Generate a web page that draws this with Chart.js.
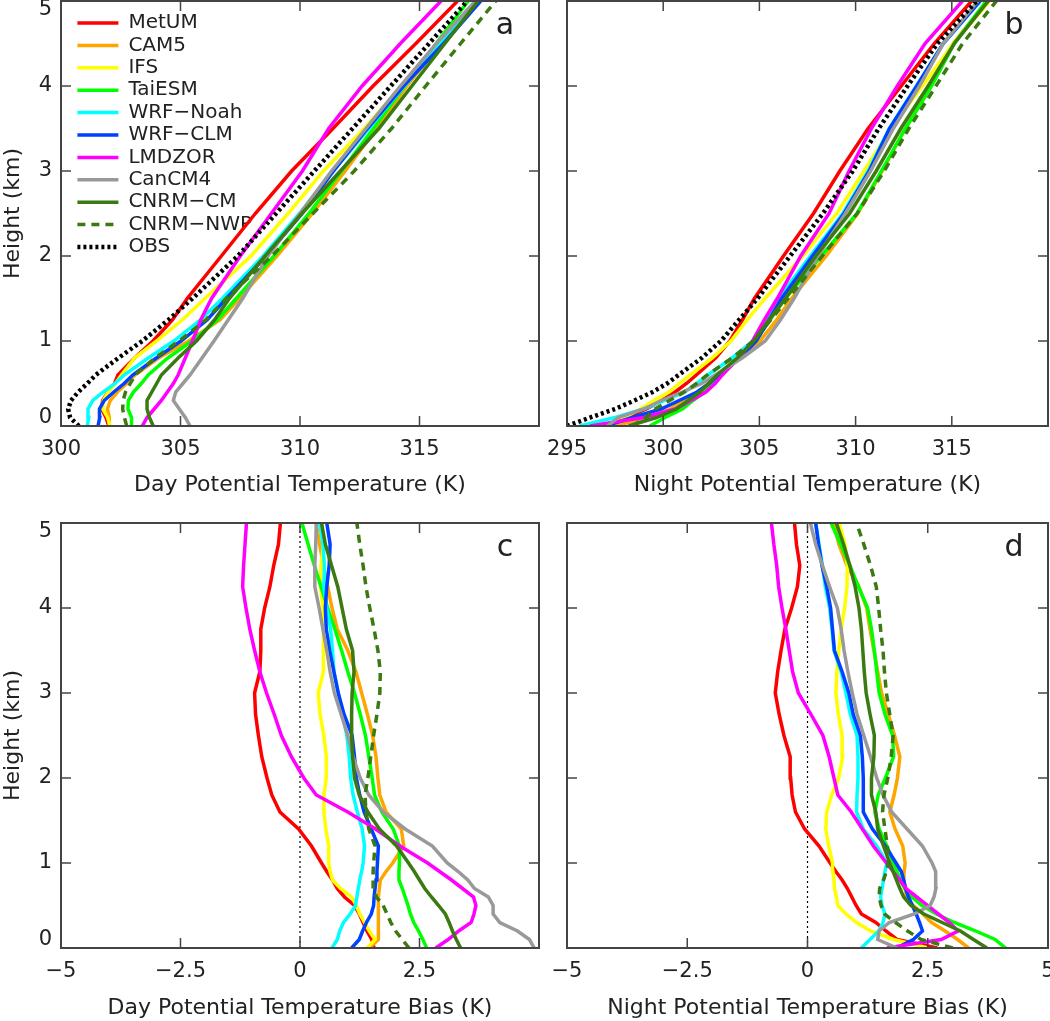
<!DOCTYPE html>
<html>
<head>
<meta charset="utf-8">
<script src="https://cdn.jsdelivr.net/npm/chart.js@4.4.0/dist/chart.umd.min.js"></script>
<style>
  body { margin: 0; background: #fff; }
  #figura { position: relative; width: 1050px; height: 1021px; overflow: hidden; }
  #figura canvas { position: absolute; }
</style>
</head>
<body>
<div id="figura">
  <canvas id="panelA" width="545" height="500" style="left:0;top:0"></canvas>
  <canvas id="panelB" width="505" height="500" style="left:545px;top:0"></canvas>
  <canvas id="panelC" width="545" height="521" style="left:0;top:500px"></canvas>
  <canvas id="panelD" width="505" height="521" style="left:545px;top:500px"></canvas>
</div>
<script>
const modelos = ['MetUM', 'CAM5', 'IFS', 'TaiESM', 'WRF−Noah', 'WRF−CLM', 'LMDZOR', 'CanCM4', 'CNRM−CM', 'CNRM−NWP'];

// alturas (km) de los perfiles
const alturasPerfil = [0, 0.1, 0.2, 0.3, 0.4, 0.5, 0.6, 0.8, 1.0, 1.25, 1.5, 2.0, 2.5, 3.0, 3.5, 4.0, 4.5, 5.0];
const alturasSesgo = [0, 0.1, 0.2, 0.3, 0.4, 0.5, 0.6, 0.7, 0.8, 0.9, 1.0, 1.2, 1.4, 1.6, 1.8, 2.0, 2.25, 2.5, 2.75, 3.0, 3.25, 3.5, 3.75, 4.0, 4.25, 4.5, 4.75, 5.0];

// temperatura potencial de dia (K), un arreglo por modelo
const thetaDia = [
  [302.0, 301.88, 301.7, 301.74, 301.96, 302.24, 302.38, 303.08, 303.85, 304.67, 305.28, 306.71, 308.13, 309.65, 311.38, 313.06, 314.85, 316.59],
  [302.05, 302.02, 301.94, 302.06, 302.36, 302.74, 303.09, 304.08, 305.34, 306.66, 307.46, 309.03, 310.52, 311.89, 313.2, 314.47, 315.89, 317.34],
  [302.05, 301.95, 301.75, 301.77, 301.97, 302.28, 302.53, 303.08, 304.0, 305.08, 306.02, 307.95, 309.5, 310.98, 312.69, 314.28, 315.84, 317.45],
  [302.96, 302.95, 302.8, 302.82, 303.03, 303.36, 303.65, 304.47, 305.48, 306.55, 307.33, 308.91, 310.37, 311.74, 313.07, 314.38, 315.7, 317.04],
  [301.1, 301.16, 301.13, 301.33, 301.77, 302.26, 302.64, 303.65, 304.72, 305.84, 306.75, 308.46, 309.98, 311.4, 312.88, 314.36, 315.91, 317.41],
  [301.55, 301.62, 301.61, 301.81, 302.21, 302.64, 303.0, 303.99, 305.02, 306.12, 306.92, 308.58, 310.09, 311.4, 312.82, 314.33, 316.01, 317.56],
  [303.4, 303.6, 303.9, 304.2, 304.45, 304.7, 304.9, 305.2, 305.5, 305.85, 306.3, 307.5, 308.8, 310.1, 311.2, 312.6, 314.2, 315.9],
  [305.4, 305.2, 304.95, 304.7, 304.8, 305.1, 305.4, 305.9, 306.4, 307.0, 307.6, 308.66, 310.0, 311.32, 312.76, 314.2, 315.71, 317.34],
  [303.86, 303.7, 303.6, 303.6, 303.8, 304.0, 304.2, 304.9, 305.67, 306.43, 307.04, 308.54, 310.08, 311.69, 313.3, 314.68, 316.06, 317.45],
  [302.75, 302.65, 302.58, 302.6, 302.7, 302.9, 303.1, 303.93, 304.94, 306.06, 306.91, 308.82, 310.54, 312.27, 313.83, 315.26, 316.72, 318.19]
];
const obsDia = [300.75, 300.38, 300.3, 300.42, 300.72, 301.1, 301.45, 302.4, 303.4, 304.5, 305.5, 307.4, 309.0, 310.6, 312.2, 313.8, 315.4, 317.0];

// temperatura potencial de noche (K)
const thetaNoche = [
  [296.9, 298.06, 299.13, 299.92, 300.62, 301.21, 301.72, 302.72, 303.47, 304.12, 304.74, 306.25, 307.81, 309.18, 310.65, 312.37, 314.09, 316.03],
  [297.4, 299.32, 300.36, 301.08, 301.9, 302.4, 302.86, 304.0, 305.03, 305.9, 306.67, 308.47, 310.11, 311.39, 312.58, 313.93, 315.07, 316.85],
  [297.2, 297.99, 298.81, 299.52, 300.3, 300.83, 301.4, 302.55, 303.52, 304.37, 305.29, 307.25, 309.02, 310.44, 311.85, 313.47, 315.08, 316.96],
  [299.3, 300.1, 301.0, 301.55, 302.18, 302.58, 302.97, 303.93, 304.79, 305.56, 306.34, 308.22, 310.07, 311.34, 312.59, 313.95, 315.13, 316.79],
  [295.65, 297.5, 298.98, 300.07, 301.11, 301.75, 302.32, 303.58, 304.65, 305.32, 305.99, 307.65, 309.33, 310.65, 311.75, 313.16, 314.56, 316.47],
  [297.0, 298.4, 299.89, 300.83, 301.76, 302.38, 302.9, 304.0, 304.84, 305.51, 306.15, 307.76, 309.4, 310.71, 311.76, 313.18, 314.55, 316.47],
  [296.2, 298.98, 300.63, 301.45, 302.22, 302.7, 303.07, 303.92, 304.64, 305.26, 305.93, 307.15, 308.62, 309.66, 310.82, 312.17, 313.61, 315.55],
  [297.1, 297.66, 298.99, 299.9, 301.0, 302.0, 302.7, 304.1, 305.3, 306.1, 306.8, 308.04, 309.47, 310.78, 311.96, 313.32, 314.56, 316.36],
  [298.2, 299.65, 300.68, 301.3, 301.92, 302.35, 302.8, 303.85, 304.71, 305.5, 306.35, 307.93, 309.69, 311.07, 312.35, 313.77, 315.13, 316.9],
  [298.4, 299.1, 299.58, 300.33, 301.1, 301.73, 302.29, 303.58, 304.68, 305.6, 306.49, 308.27, 310.08, 311.49, 312.77, 314.18, 315.56, 317.32]
];
const obsNoche = [295.0, 296.2, 297.5, 298.5, 299.45, 300.2, 300.8, 302.0, 303.0, 303.95, 304.9, 306.6, 308.3, 309.85, 311.2, 312.7, 314.25, 316.3];

// sesgo de dia (K)
const sesgoDia = [
  [1.55, 1.5, 1.4, 1.32, 1.24, 1.14, 0.93, 0.78, 0.68, 0.56, 0.45, 0.24, -0.03, -0.42, -0.59, -0.69, -0.80, -0.87, -0.93, -0.95, -0.84, -0.82, -0.82, -0.74, -0.63, -0.55, -0.45, -0.41],
  [1.45, 1.64, 1.64, 1.64, 1.64, 1.64, 1.64, 1.66, 1.68, 1.80, 1.94, 2.17, 2.12, 1.80, 1.67, 1.63, 1.59, 1.52, 1.41, 1.29, 1.17, 1.0, 0.78, 0.67, 0.58, 0.49, 0.41, 0.34],
  [1.4, 1.57, 1.45, 1.35, 1.25, 1.18, 1.08, 0.85, 0.68, 0.63, 0.60, 0.60, 0.54, 0.50, 0.50, 0.55, 0.55, 0.50, 0.42, 0.38, 0.49, 0.49, 0.49, 0.48, 0.43, 0.44, 0.49, 0.45],
  [2.65, 2.57, 2.48, 2.38, 2.31, 2.26, 2.20, 2.14, 2.07, 2.07, 2.08, 2.08, 1.95, 1.71, 1.56, 1.51, 1.44, 1.37, 1.26, 1.14, 1.0, 0.87, 0.73, 0.58, 0.44, 0.30, 0.17, 0.04],
  [0.67, 0.78, 0.83, 0.91, 1.05, 1.16, 1.19, 1.22, 1.25, 1.29, 1.32, 1.35, 1.30, 1.20, 1.11, 1.06, 1.03, 0.98, 0.89, 0.80, 0.71, 0.68, 0.64, 0.56, 0.50, 0.51, 0.48, 0.41],
  [1.08, 1.24, 1.31, 1.39, 1.49, 1.54, 1.55, 1.57, 1.59, 1.61, 1.62, 1.64, 1.49, 1.34, 1.25, 1.18, 1.14, 1.09, 0.92, 0.80, 0.71, 0.62, 0.55, 0.53, 0.56, 0.61, 0.63, 0.56],
  [2.84, 3.1, 3.32, 3.58, 3.64, 3.68, 3.63, 3.40, 3.17, 2.92, 2.67, 2.09, 1.58, 1.0, 0.34, 0.08, -0.18, -0.39, -0.54, -0.70, -0.84, -0.95, -1.05, -1.13, -1.20, -1.18, -1.15, -1.12],
  [4.90, 4.80, 4.55, 4.18, 4.04, 4.04, 3.94, 3.65, 3.51, 3.31, 3.08, 2.77, 2.20, 1.74, 1.44, 1.26, 1.11, 1.0, 0.86, 0.72, 0.63, 0.56, 0.48, 0.40, 0.31, 0.31, 0.33, 0.34],
  [3.36, 3.27, 3.19, 3.12, 3.04, 2.90, 2.75, 2.61, 2.50, 2.39, 2.27, 2.02, 1.66, 1.42, 1.24, 1.14, 1.10, 1.08, 1.08, 1.09, 1.13, 1.10, 0.97, 0.88, 0.79, 0.66, 0.53, 0.45],
  [2.28, 2.14, 2.0, 1.90, 1.82, 1.74, 1.60, 1.53, 1.53, 1.53, 1.54, 1.57, 1.44, 1.38, 1.36, 1.42, 1.48, 1.54, 1.61, 1.67, 1.68, 1.63, 1.55, 1.46, 1.38, 1.32, 1.25, 1.19]
];

// sesgo de noche (K)
const sesgoNoche = [
  [2.7, 1.86, 1.63, 1.42, 1.12, 1.01, 0.92, 0.83, 0.72, 0.59, 0.47, 0.24, -0.06, -0.25, -0.32, -0.35, -0.36, -0.49, -0.59, -0.67, -0.62, -0.55, -0.47, -0.33, -0.21, -0.16, -0.23, -0.27],
  [3.35, 3.12, 2.86, 2.58, 2.40, 2.20, 2.06, 2.03, 2.0, 2.01, 2.03, 1.98, 1.82, 1.71, 1.80, 1.87, 1.92, 1.81, 1.68, 1.54, 1.46, 1.38, 1.30, 1.23, 1.07, 0.82, 0.65, 0.55],
  [2.5, 1.79, 1.31, 1.02, 0.80, 0.63, 0.60, 0.56, 0.55, 0.53, 0.52, 0.44, 0.38, 0.40, 0.50, 0.65, 0.73, 0.72, 0.64, 0.59, 0.61, 0.65, 0.70, 0.77, 0.82, 0.83, 0.78, 0.66],
  [4.12, 3.90, 3.50, 3.05, 2.68, 2.38, 2.17, 2.02, 1.93, 1.86, 1.79, 1.65, 1.49, 1.40, 1.47, 1.62, 1.79, 1.77, 1.61, 1.49, 1.44, 1.39, 1.33, 1.25, 1.06, 0.88, 0.69, 0.49],
  [1.12, 1.30, 1.48, 1.57, 1.61, 1.55, 1.52, 1.55, 1.58, 1.61, 1.65, 1.44, 1.16, 1.02, 1.03, 1.05, 1.05, 1.03, 0.89, 0.80, 0.70, 0.55, 0.51, 0.46, 0.37, 0.31, 0.24, 0.17],
  [1.85, 2.2, 2.39, 2.33, 2.26, 2.18, 2.10, 2.04, 2.0, 1.95, 1.84, 1.62, 1.35, 1.16, 1.16, 1.16, 1.14, 1.10, 0.95, 0.86, 0.72, 0.56, 0.52, 0.48, 0.40, 0.30, 0.23, 0.17],
  [1.65, 2.78, 3.13, 2.95, 2.72, 2.50, 2.27, 2.05, 1.92, 1.78, 1.64, 1.37, 1.14, 0.91, 0.63, 0.55, 0.45, 0.32, 0.07, -0.19, -0.31, -0.38, -0.45, -0.53, -0.60, -0.64, -0.70, -0.75],
  [1.86, 1.46, 1.49, 1.70, 2.22, 2.55, 2.63, 2.67, 2.67, 2.66, 2.59, 2.39, 2.07, 1.75, 1.57, 1.44, 1.31, 1.17, 1.03, 0.93, 0.84, 0.76, 0.70, 0.62, 0.46, 0.31, 0.17, 0.06],
  [3.73, 3.45, 3.18, 2.80, 2.42, 2.15, 2.0, 1.92, 1.85, 1.78, 1.71, 1.58, 1.46, 1.42, 1.33, 1.33, 1.38, 1.39, 1.30, 1.22, 1.18, 1.15, 1.12, 1.07, 0.99, 0.88, 0.75, 0.6],
  [3.02, 2.36, 2.08, 1.83, 1.60, 1.53, 1.49, 1.50, 1.58, 1.64, 1.68, 1.66, 1.61, 1.56, 1.59, 1.67, 1.74, 1.78, 1.71, 1.64, 1.60, 1.57, 1.52, 1.48, 1.43, 1.31, 1.17, 1.02]
];
const sesgoCero = 0;

const colores = ['#ff0000', '#ffa500', '#ffff00', '#00ff00', '#00ffff', '#0040ff', '#ff00ff', '#999999', '#3a7a10', '#3a7a10'];
const FUENTE = 'DejaVu Sans';
const TEXTO = '#222';

function armarDatasets(alturas, tabla, obs) {
  let datasets = tabla.map((valores, i) => ({
    label: modelos[i],
    data: valores.map((v, k) => ({ x: v, y: alturas[k] })),
    showLine: true,
    borderColor: colores[i],
    backgroundColor: colores[i],
    borderWidth: 3.5,
    borderDash: i === 9 ? [8, 6] : [],
    pointRadius: 0,
    order: 20 - i
  }));
  if (obs) {
    datasets.push({
      label: 'OBS',
      data: obs.map((v, k) => ({ x: v, y: alturas[k] })),
      showLine: true,
      borderColor: '#000',
      backgroundColor: '#000',
      borderWidth: 4.5,
      borderDash: [3, 3],
      pointRadius: 0,
      order: 0
    });
  } else {
    datasets.push({
      label: 'cero',
      data: [{ x: sesgoCero, y: alturas[0] }, { x: sesgoCero, y: alturas[alturas.length - 1] }],
      showLine: true,
      borderColor: '#000',
      borderWidth: 1.2,
      borderDash: [2, 3],
      pointRadius: 0,
      order: 30
    });
  }
  return datasets;
}

// marco con marcas hacia adentro y letra del panel
const marco = {
  id: 'marco',
  afterLayout(chart) {
    if (chart.options.plugins.legend.display) {
      chart.legend.left = chart.chartArea.left + 14;
      chart.legend.top = chart.chartArea.top + 9.6;
    }
  },
  afterDatasetsDraw(chart, args, opts) {
    const { ctx, chartArea: a, scales: { x, y } } = chart;
    ctx.save();
    ctx.strokeStyle = '#444';
    ctx.lineWidth = 1.5;
    ctx.setLineDash([]);
    ctx.beginPath();
    x.ticks.forEach(t => {
      const px = x.getPixelForValue(t.value);
      ctx.moveTo(px, a.bottom); ctx.lineTo(px, a.bottom - 10);
      ctx.moveTo(px, a.top); ctx.lineTo(px, a.top + 10);
    });
    y.ticks.forEach(t => {
      const py = y.getPixelForValue(t.value);
      ctx.moveTo(a.left, py); ctx.lineTo(a.left + 10, py);
      ctx.moveTo(a.right, py); ctx.lineTo(a.right - 10, py);
    });
    ctx.stroke();
    ctx.lineWidth = 2;
    ctx.strokeRect(a.left, a.top, a.right - a.left, a.bottom - a.top);
    ctx.fillStyle = TEXTO;
    ctx.font = '30px "' + FUENTE + '"';
    ctx.textAlign = 'center';
    ctx.textBaseline = 'middle';
    ctx.fillText(opts.letra, a.right - 34, a.top + 25);
    ctx.restore();
  }
};

function opcionesLeyenda() {
  return {
    display: true,
    position: 'chartArea',
    align: 'start',
    labels: {
      usePointStyle: true,
      pointStyle: 'line',
      pointStyleWidth: 41,
      padding: 2.4,
      color: TEXTO,
      font: { family: FUENTE, size: 20 },
      sort: (a, b) => a.datasetIndex - b.datasetIndex,
      generateLabels: chart => Chart.defaults.plugins.legend.labels.generateLabels(chart).map(item => {
        const ds = chart.data.datasets[item.datasetIndex];
        item.lineDash = ds.borderDash;
        item.lineWidth = ds.borderWidth;
        item.strokeStyle = ds.borderColor;
        return item;
      })
    }
  };
}

function crearPanel(id, cfg) {
  return new Chart(document.getElementById(id), {
    type: 'scatter',
    data: { datasets: cfg.datasets },
    options: {
      responsive: false,
      animation: false,
      events: [],
      layout: { padding: cfg.padding },
      scales: {
        x: {
          type: 'linear',
          min: cfg.xMin,
          max: cfg.xMax,
          grid: { display: false, drawTicks: false },
          border: { display: false },
          ticks: {
            stepSize: cfg.xPaso,
            autoSkip: false,
            maxRotation: 0,
            padding: 11,
            color: TEXTO,
            font: { family: FUENTE, size: 21 },
            callback: v => (cfg.ocultar === v ? '' : String(v).replace('-', '−'))
          },
          title: {
            display: true,
            text: cfg.tituloX,
            color: TEXTO,
            font: { family: FUENTE, size: 22 },
            padding: { top: 0, bottom: cfg.padTitulo }
          },
          afterFit: s => { s.height = cfg.altoX; s.paddingLeft = 0; s.paddingRight = 0; }
        },
        y: {
          type: 'linear',
          min: 0,
          max: 5,
          grid: { display: false, drawTicks: false },
          border: { display: false },
          ticks: {
            stepSize: 1,
            display: cfg.etiquetasY,
            padding: 9,
            color: TEXTO,
            font: { family: FUENTE, size: 21, lineHeight: 0.8 },
            callback: v => (v === 5 ? ['', '5'] : v === 0 ? ['0', ''] : String(v))
          },
          title: {
            display: cfg.etiquetasY,
            text: 'Height (km)',
            color: TEXTO,
            font: { family: FUENTE, size: 22 },
            padding: { top: 0, bottom: 0 }
          },
          afterFit: s => { s.width = cfg.etiquetasY ? 61 : 0; s.paddingTop = 0; s.paddingBottom = 0; }
        }
      },
      plugins: {
        legend: cfg.leyenda ? opcionesLeyenda() : { display: false },
        tooltip: { enabled: false },
        marco: { letra: cfg.letra }
      }
    },
    plugins: [marco]
  });
}

crearPanel('panelA', {
  datasets: armarDatasets(alturasPerfil, thetaDia, obsDia),
  padding: { top: 1, right: 6, left: 0, bottom: 0 },
  xMin: 300, xMax: 320, xPaso: 5, ocultar: 320,
  tituloX: 'Day Potential Temperature (K)', padTitulo: 2, altoX: 74,
  etiquetasY: true, leyenda: true, letra: 'a'
});

crearPanel('panelB', {
  datasets: armarDatasets(alturasPerfil, thetaNoche, obsNoche),
  padding: { top: 1, right: 2, left: 22, bottom: 0 },
  xMin: 295, xMax: 320, xPaso: 5, ocultar: 320,
  tituloX: 'Night Potential Temperature (K)', padTitulo: 2, altoX: 74,
  etiquetasY: false, leyenda: false, letra: 'b'
});

crearPanel('panelC', {
  datasets: armarDatasets(alturasSesgo, sesgoDia, null),
  padding: { top: 23, right: 6, left: 0, bottom: 0 },
  xMin: -5, xMax: 5, xPaso: 2.5, ocultar: 5,
  tituloX: 'Day Potential Temperature Bias (K)', padTitulo: 0, altoX: 73,
  etiquetasY: true, leyenda: false, letra: 'c'
});

crearPanel('panelD', {
  datasets: armarDatasets(alturasSesgo, sesgoNoche, null),
  padding: { top: 23, right: 2, left: 22, bottom: 0 },
  xMin: -5, xMax: 5, xPaso: 2.5, ocultar: null,
  tituloX: 'Night Potential Temperature Bias (K)', padTitulo: 0, altoX: 73,
  etiquetasY: false, leyenda: false, letra: 'd'
});
</script>
</body>
</html>
